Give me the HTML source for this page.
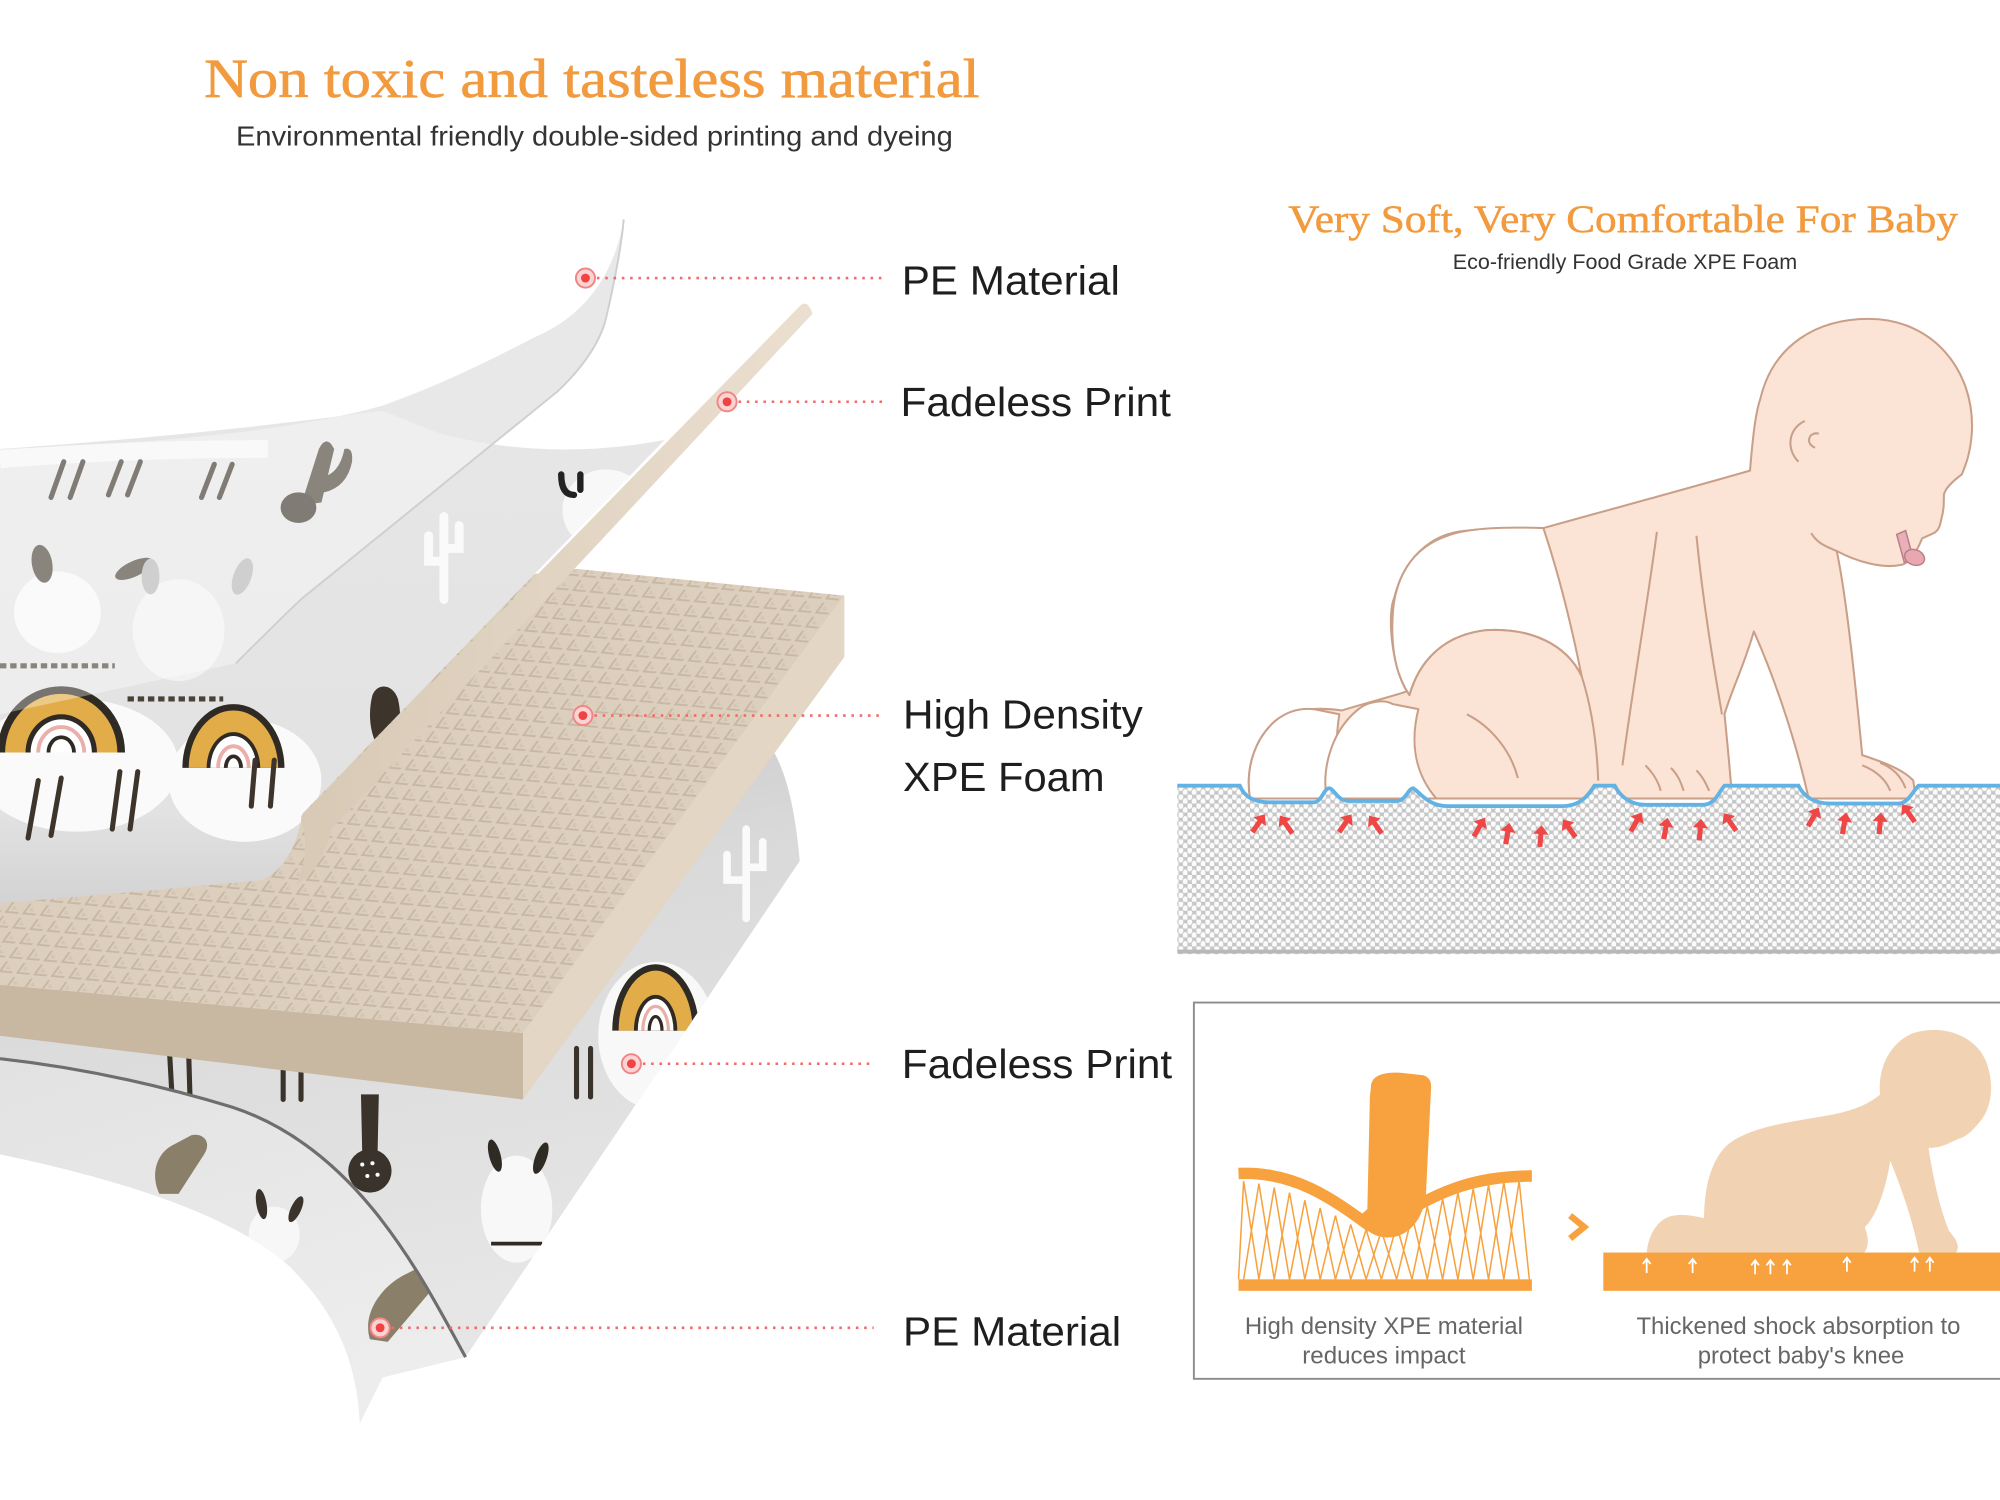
<!DOCTYPE html>
<html><head><meta charset="utf-8"><title>Mat layers</title>
<style>
html,body{margin:0;padding:0;background:#fff;width:2000px;height:1500px;overflow:hidden}
svg{display:block}
.sans{font-family:"Liberation Sans",Arial,sans-serif}
.serif{font-family:"Liberation Serif","Times New Roman",serif}
</style></head><body>
<svg width="2000" height="1500" viewBox="0 0 1568 1176" xmlns="http://www.w3.org/2000/svg">
<defs>
<pattern id="ft" width="20" height="20" patternUnits="userSpaceOnUse" patternTransform="matrix(0.68,0.063,0.40,-0.55,0,0)">
<rect width="20" height="20" fill="#dccfbe"/>
<path d="M3,17 V3 H17" fill="none" stroke="#c8b8a3" stroke-width="2.6"/>
<path d="M8,12 V8 H12" fill="none" stroke="#d2c4b1" stroke-width="2"/>
</pattern>
<pattern id="dots" width="7" height="7" patternUnits="userSpaceOnUse">
<rect width="7" height="7" fill="#c6c6c6"/>
<ellipse cx="1.75" cy="1.75" rx="2.0" ry="2.5" fill="#fbfbfb"/>
<ellipse cx="5.25" cy="5.25" rx="2.0" ry="2.5" fill="#fbfbfb"/>
</pattern>
<linearGradient id="gF" x1="0" y1="0" x2="0.25" y2="1">
<stop offset="0" stop-color="#c4c4c4"/><stop offset="0.35" stop-color="#d9d9d9"/><stop offset="1" stop-color="#e6e6e6"/>
</linearGradient>
<linearGradient id="gG" x1="0" y1="0" x2="0.4" y2="1">
<stop offset="0" stop-color="#e2e2e2"/><stop offset="1" stop-color="#ededed"/>
</linearGradient>
<linearGradient id="gB" x1="0" y1="352" x2="0" y2="708" gradientUnits="userSpaceOnUse">
<stop offset="0" stop-color="#e6e6e6"/><stop offset="0.8" stop-color="#e2e2e2"/><stop offset="1" stop-color="#d3d3d3"/>
</linearGradient>
<linearGradient id="gC" x1="0" y1="0" x2="1" y2="0">
<stop offset="0" stop-color="#d8c9b5"/><stop offset="1" stop-color="#ebdfd0"/>
</linearGradient>
<clipPath id="clipB"><path d="M0,352 Q150,342 300,322 L345,340 Q430,362 521,345 L237,638 Q230,680 205,690 Q100,700 0,708 Z"/></clipPath>
<clipPath id="clipF"><path d="M0,790 L607,590 C618,610 624,640 627,675 L365,1064 C330,1000 280,905 182,868 Q90,840 0,830 Z"/></clipPath>
<clipPath id="clipG"><path d="M0,830 Q90,840 182,868 C280,900 330,1000 365,1064 L300,1080 L282,1116 C280,1070 265,1030 226,992 C190,960 120,930 0,905 Z"/></clipPath>
<path id="ar" d="M-2,9 L-2,-1 L-6,-1 L0,-8 L6,-1 L2,-1 L2,9 Z" fill="#ef4646"/>
</defs>

<rect width="1568" height="1176" fill="#fff"/>

<!-- Titles -->
<text x="160" y="76" class="serif" font-size="43" fill="#f29a3e" stroke="#f29a3e" stroke-width="0.5" textLength="608" lengthAdjust="spacingAndGlyphs">Non toxic and tasteless material</text>
<text x="185" y="114" class="sans" font-size="22" fill="#333" textLength="562" lengthAdjust="spacingAndGlyphs">Environmental friendly double-sided printing and dyeing</text>
<text x="1010" y="182" class="serif" font-size="31" fill="#f29a3e" stroke="#f29a3e" stroke-width="0.4" textLength="525" lengthAdjust="spacingAndGlyphs">Very Soft, Very Comfortable For Baby</text>
<text x="1139" y="211" class="sans" font-size="17" fill="#333" textLength="270" lengthAdjust="spacingAndGlyphs">Eco-friendly Food Grade XPE Foam</text>

<!-- ===== LEFT MAT ===== -->
<path d="M0,830 Q90,840 182,868 C280,900 330,1000 365,1064 L300,1080 L282,1116 C280,1070 265,1030 226,992 C190,960 120,930 0,905 Z" fill="url(#gG)"/>
<g clip-path="url(#clipG)">
<path d="M125,936 C118,922 122,905 135,898 L150,890 C160,888 166,896 160,905 L140,936 Z" fill="#8a7f69"/>
<ellipse cx="215" cy="968" rx="20" ry="22" fill="#f7f7f7"/>
<ellipse cx="205" cy="944" rx="4" ry="12" fill="#3a332b" transform="rotate(-10 205 944)"/>
<ellipse cx="232" cy="948" rx="4" ry="11" fill="#3a332b" transform="rotate(25 232 948)"/>
<path d="M290,1050 C284,1030 298,1010 316,1000 L336,990 C346,988 351,998 343,1006 L304,1052 Z" fill="#8a7f69"/>
</g>
<path d="M0,790 L607,590 C618,610 624,640 627,675 L365,1064 C330,1000 280,905 182,868 Q90,840 0,830 Z" fill="url(#gF)"/>
<g clip-path="url(#clipF)">
<ellipse cx="515" cy="812" rx="46" ry="58" fill="#f8f8f8"/>
<path d="M480,808 A34,52 0 0 1 548,808 Z" fill="#2f2a24"/>
<path d="M485,808 A29,47 0 0 1 543,808 Z" fill="#e2ad48"/>
<path d="M497,808 A17,28 0 0 1 531,808 Z" fill="#2f2a24"/>
<path d="M500,808 A14,25 0 0 1 528,808 Z" fill="#fff"/>
<path d="M504,808 A10,19 0 0 1 524,808" fill="none" stroke="#e8b0a8" stroke-width="2.5"/>
<path d="M509,808 A5,11 0 0 1 519,808" fill="none" stroke="#2f2a24" stroke-width="2.5"/>
<g stroke="#3a332b" stroke-width="4" stroke-linecap="round">
<path d="M452,822 V860 M463,822 V860 M133,826 L135,862 M148,828 L149,862 M222,836 V862 M236,836 V862"/>
</g>
<path d="M283,858 L297,858 L296,905 L284,905 Z" fill="#3a332b"/>
<ellipse cx="290" cy="918" rx="17" ry="17" fill="#3a332b"/>
<g fill="#fff"><circle cx="284" cy="913" r="1.6"/><circle cx="292" cy="912" r="1.6"/><circle cx="288" cy="922" r="1.6"/><circle cx="296" cy="921" r="1.6"/></g>
<ellipse cx="405" cy="948" rx="28" ry="42" fill="#f8f8f8"/>
<ellipse cx="388" cy="906" rx="4.5" ry="13" fill="#2f2a24" transform="rotate(-15 388 906)"/>
<ellipse cx="424" cy="908" rx="4.5" ry="13" fill="#2f2a24" transform="rotate(20 424 908)"/>
<path d="M385,975 H425" stroke="#2f2a24" stroke-width="3"/>
<path d="M585,720 V650 M585,690 H570 V670 M585,680 H598 V660" fill="none" stroke="#fafafa" stroke-width="6" stroke-linecap="round"/>
</g>
<path d="M0,830 Q90,840 182,868 C280,900 330,1000 365,1064" fill="none" stroke="#6e6e6e" stroke-width="2.5"/>

<!-- foam block -->
<path d="M0,500 L452,446 L662,467 L410,810 L0,772 Z" fill="url(#ft)"/>
<path d="M410,810 L662,467 L662,515 L410,862 Z" fill="#e3d6c4"/>
<path d="M0,772 L410,810 L410,862 L0,812 Z" fill="#c8b7a1"/>

<!-- PE lifted sheet (solid) -->
<path d="M489,172 C482,215 458,248 420,264 C385,282 350,300 300,318 C230,338 120,348 0,352 L0,560 L185,520 C210,495 225,480 237,469 L437,307 C455,290 470,270 475,250 C482,220 487,195 489,172 Z" fill="#dcdcdc"/>

<!-- top print sheet -->
<path d="M0,352 Q150,342 300,322 L345,340 Q430,362 521,345 L237,638 Q230,680 205,690 Q100,700 0,708 Z" fill="url(#gB)"/>
<g clip-path="url(#clipB)">
<ellipse cx="60" cy="600" rx="80" ry="52" fill="#fafafa"/>
<ellipse cx="192" cy="612" rx="60" ry="48" fill="#fafafa"/>
<ellipse cx="45" cy="480" rx="34" ry="32" fill="#f8f8f8"/>
<ellipse cx="140" cy="494" rx="36" ry="40" fill="#f1f1f1"/>
<ellipse cx="33" cy="442" rx="8" ry="15" fill="#4a4236" transform="rotate(-10 33 442)"/>
<ellipse cx="105" cy="446" rx="16" ry="6" fill="#4a4236" transform="rotate(-25 105 446)"/>
<ellipse cx="118" cy="452" rx="7" ry="14" fill="#b5b5b5"/>
<ellipse cx="190" cy="452" rx="7" ry="15" fill="#b5b5b5" transform="rotate(20 190 452)"/>
<path d="M0,522 H90 M100,548 H175" stroke="#4a4236" stroke-width="4" stroke-dasharray="5 3"/>
<path d="M0,360 Q100,352 210,352" stroke="#f6f6f6" stroke-width="14" fill="none"/>
<path d="M-2,590 A50,52 0 0 1 98,590 Z" fill="#2f2a24"/>
<path d="M4,590 A44,46 0 0 1 92,590 Z" fill="#e2ad48"/>
<path d="M20,590 A28,30 0 0 1 76,590 Z" fill="#2f2a24"/>
<path d="M24,590 A24,26 0 0 1 72,590 Z" fill="#fff"/>
<path d="M30,590 A18,20 0 0 1 66,590" fill="none" stroke="#e8b0a8" stroke-width="3"/>
<path d="M38,590 A10,12 0 0 1 58,590" fill="none" stroke="#2f2a24" stroke-width="3"/>
<path d="M143,602 A40,50 0 0 1 223,602 Z" fill="#2f2a24"/>
<path d="M148,602 A35,45 0 0 1 218,602 Z" fill="#e2ad48"/>
<path d="M162,602 A21,28 0 0 1 204,602 Z" fill="#2f2a24"/>
<path d="M165,602 A18,25 0 0 1 201,602 Z" fill="#fff"/>
<path d="M171,602 A12,17 0 0 1 195,602" fill="none" stroke="#e8b0a8" stroke-width="3"/>
<path d="M177,602 A6,9 0 0 1 189,602" fill="none" stroke="#2f2a24" stroke-width="3"/>
<g stroke="#3d352c" stroke-width="4" stroke-linecap="round">
<path d="M40,390 L50,362 M55,390 L65,362 M85,388 L95,362 M100,388 L110,362 M158,390 L168,364 M172,390 L182,364"/>
<path d="M22,657 L30,612 M40,655 L48,610 M88,650 L94,605 M102,650 L108,605 M197,632 L200,596 M212,632 L215,596"/>
</g>
<path d="M236,396 L250,352 Q256,340 262,352 L252,394 Z" fill="#4a4236"/>
<path d="M252,374 Q266,372 270,352 Q277,350 276,362 Q272,382 254,386 Z" fill="#4a4236"/>
<ellipse cx="234" cy="398" rx="14" ry="12" fill="#3d352c"/>
<path d="M300,590 C290,580 288,560 292,545 C296,535 308,536 312,548 C315,560 314,575 308,590 Z" fill="#3d352c"/>
<path d="M348,470 V405 M348,440 H336 V420 M348,430 H360 V412" fill="none" stroke="#fafafa" stroke-width="7" stroke-linecap="round"/>
<ellipse cx="475" cy="400" rx="34" ry="32" fill="#f8f8f8"/>
<path d="M440,372 Q440,388 450,388 M455,372 V384" fill="none" stroke="#222" stroke-width="5" stroke-linecap="round"/>
<circle cx="500" cy="378" r="4" fill="#2f2a24"/>
</g>
<path d="M489,172 C482,215 458,248 420,264 C385,282 350,300 300,318 C230,338 120,348 0,352 L0,560 L185,520 C210,495 225,480 237,469 L437,307 C455,290 470,270 475,250 C482,220 487,195 489,172 Z" fill="#ffffff" opacity="0.35"/>
<path d="M489,172 C487,195 482,220 475,250 C470,270 455,290 437,307 L237,469 C225,480 210,495 185,520" fill="none" stroke="#cfcfcf" stroke-width="1.5"/>

<!-- beige edge band -->
<path d="M627,240 Q633,234 637,246 L260,650 Q252,682 232,694 Q244,668 236,640 Z" fill="url(#gC)"/>

<!-- callouts -->
<g stroke="#f26a6a" stroke-width="2" stroke-dasharray="2 4.5" fill="none">
<path d="M468,218 H695"/><path d="M579,315 H692"/><path d="M466,561 H692"/><path d="M504,834 H685"/><path d="M307,1041 H685"/>
</g>
<g>
<circle cx="459" cy="218" r="7.5" fill="#fbd3d3" stroke="#f08585" stroke-width="1.5"/><circle cx="459" cy="218" r="3.5" fill="#ee4444"/>
<circle cx="570" cy="315" r="7.5" fill="#fbd3d3" stroke="#f08585" stroke-width="1.5"/><circle cx="570" cy="315" r="3.5" fill="#ee4444"/>
<circle cx="457" cy="561" r="7.5" fill="#fbd3d3" stroke="#f08585" stroke-width="1.5"/><circle cx="457" cy="561" r="3.5" fill="#ee4444"/>
<circle cx="495" cy="834" r="7.5" fill="#fbd3d3" stroke="#f08585" stroke-width="1.5"/><circle cx="495" cy="834" r="3.5" fill="#ee4444"/>
<circle cx="298" cy="1041" r="7.5" fill="#fbd3d3" stroke="#f08585" stroke-width="1.5"/><circle cx="298" cy="1041" r="3.5" fill="#ee4444"/>
</g>
<g class="sans" font-size="32" fill="#1e1e1e">
<text x="707" y="231" textLength="171" lengthAdjust="spacingAndGlyphs">PE Material</text>
<text x="706" y="326" textLength="212" lengthAdjust="spacingAndGlyphs">Fadeless Print</text>
<text x="708" y="571" textLength="188" lengthAdjust="spacingAndGlyphs">High Density</text>
<text x="708" y="620" textLength="158" lengthAdjust="spacingAndGlyphs">XPE Foam</text>
<text x="707" y="845" textLength="212" lengthAdjust="spacingAndGlyphs">Fadeless Print</text>
<text x="708" y="1055" textLength="171" lengthAdjust="spacingAndGlyphs">PE Material</text>
</g>

<!-- ===== RIGHT: baby on foam ===== -->
<g stroke="#c99f88" stroke-width="1.6" stroke-linejoin="round">
<path d="M980,626 C976,600 985,578 1000,565 C1012,556 1030,554 1052,557 C1075,550 1095,545 1103,542 C1090,520 1088,480 1093,469 C1100,440 1120,418 1150,416 C1170,414 1195,414 1210,414 C1260,400 1320,384 1372,369 C1374,345 1376,325 1380,313 C1390,270 1425,250 1465,250 C1515,250 1548,290 1546,338 C1545,355 1541,365 1538,372 C1530,378 1525,383 1524,388 C1524,395 1524,400 1522,407 C1521,412 1520,416 1516,418 L1507,422 C1503,432 1497,442 1490,443 C1475,446 1455,440 1440,432 C1448,470 1455,540 1460,592 C1475,597 1492,603 1500,612 L1502,626 L1418,626 C1410,590 1395,540 1375,495 C1368,520 1358,540 1352,560 C1354,580 1356,600 1358,626 Z" fill="#fbe4d6"/>
<path d="M1210,414 C1180,413 1150,414 1135,420 C1105,430 1094,455 1092,480 C1090,510 1095,530 1105,545 C1112,520 1130,498 1165,494 C1200,492 1228,505 1240,530 C1232,490 1222,450 1210,414 Z" fill="#fff"/>
<path d="M980,626 C976,600 985,578 1000,565 C1010,557 1020,555 1030,556 L1050,560 C1047,580 1046,605 1056,626 Z" fill="#fff"/>
<path d="M1040,626 C1036,600 1045,572 1065,556 C1072,550 1085,548 1092,552 L1112,556 C1106,580 1108,605 1126,626 Z" fill="#fff"/>
<g fill="none">
<path d="M1105,545 C1112,520 1130,498 1165,494 C1200,492 1228,505 1240,530 C1248,555 1252,585 1253,612"/>
<path d="M1150,560 C1170,570 1185,590 1190,610"/>
<path d="M1299,417 C1292,470 1280,540 1272,600"/>
<path d="M1330,420 C1336,480 1345,530 1350,560"/>
<path d="M1415,330 C1402,336 1400,352 1410,362"/>
<path d="M1426,340 C1418,338 1415,348 1423,351"/>
<path d="M1440,432 C1430,428 1424,425 1420,418"/>
<path d="M1290,600 C1296,606 1300,612 1302,620 M1310,602 C1316,608 1318,614 1320,620 M1330,604 C1336,610 1338,616 1340,620"/>
<path d="M1460,600 C1470,604 1478,610 1482,620 M1474,598 C1484,602 1490,608 1494,618"/>
</g>
</g>
<path d="M1487,419 L1494,416 L1500,438 L1493,441 Z" fill="#eab0b8" stroke="#b98089" stroke-width="1.2"/>
<ellipse cx="1501" cy="437" rx="8" ry="6" fill="#e9a7b1" stroke="#b98089" stroke-width="1.2" transform="rotate(20 1501 437)"/>

<path d="M923,616 H972 C976,626 985,629 995,629 L1030,629 C1036,629 1038,618 1042,618 C1046,618 1048,628 1058,628 L1095,628 C1102,628 1104,618 1108,618 C1114,622 1120,632 1135,632 L1225,632 C1240,632 1246,622 1250,616 H1266 C1270,624 1278,631 1290,631 L1335,631 C1345,631 1348,620 1352,616 H1410 C1414,624 1422,630 1435,630 L1488,630 C1496,630 1500,620 1504,616 H1568 V748 H923 Z" fill="url(#dots)"/>
<path d="M923,746 H1568" stroke="#b8b8b8" stroke-width="3"/>
<path d="M923,616 H972 C976,626 985,629 995,629 L1030,629 C1036,629 1038,618 1042,618 C1046,618 1048,628 1058,628 L1095,628 C1102,628 1104,618 1108,618 C1114,622 1120,632 1135,632 L1225,632 C1240,632 1246,622 1250,616 H1266 C1270,624 1278,631 1290,631 L1335,631 C1345,631 1348,620 1352,616 H1410 C1414,624 1422,630 1435,630 L1488,630 C1496,630 1500,620 1504,616 H1568" fill="none" stroke="#62b3e3" stroke-width="3"/>
<g>
<use href="#ar" transform="translate(987,645) rotate(35)"/>
<use href="#ar" transform="translate(1008,646) rotate(-35)"/>
<use href="#ar" transform="translate(1055,645) rotate(35)"/>
<use href="#ar" transform="translate(1078,646) rotate(-35)"/>
<use href="#ar" transform="translate(1160,648) rotate(30)"/>
<use href="#ar" transform="translate(1182,653) rotate(10)"/>
<use href="#ar" transform="translate(1208,655) rotate(5)"/>
<use href="#ar" transform="translate(1230,649) rotate(-35)"/>
<use href="#ar" transform="translate(1283,644) rotate(30)"/>
<use href="#ar" transform="translate(1306,649) rotate(10)"/>
<use href="#ar" transform="translate(1333,650) rotate(5)"/>
<use href="#ar" transform="translate(1356,644) rotate(-35)"/>
<use href="#ar" transform="translate(1422,640) rotate(30)"/>
<use href="#ar" transform="translate(1446,645) rotate(10)"/>
<use href="#ar" transform="translate(1474,645) rotate(5)"/>
<use href="#ar" transform="translate(1496,637) rotate(-35)"/>
</g>

<!-- ===== BOTTOM RIGHT BOX ===== -->
<rect x="936" y="786" width="700" height="295" fill="none" stroke="#8c8c8c" stroke-width="1.5"/>
<g stroke="#f7a23e" stroke-width="1.2" fill="none">
<path d="M975,926L971,1003M975,926L987,1003 M987,928L975,1003M987,928L999,1003 M999,931L987,1003M999,931L1011,1003 M1011,935L999,1003M1011,935L1023,1003 M1023,941L1011,1003M1023,941L1035,1003 M1035,947L1023,1003M1035,947L1047,1003 M1047,953L1035,1003M1047,953L1059,1003 M1059,960L1047,1003M1059,960L1071,1003 M1071,964L1059,1003M1071,964L1083,1003 M1083,965L1071,1003M1083,965L1095,1003 M1095,961L1083,1003M1095,961L1107,1003 M1107,953L1095,1003M1107,953L1119,1003 M1119,946L1107,1003M1119,946L1131,1003 M1131,940L1119,1003M1131,940L1143,1003 M1143,935L1131,1003M1143,935L1155,1003 M1155,932L1143,1003M1155,932L1167,1003 M1167,929L1155,1003M1167,929L1179,1003 M1179,927L1167,1003M1179,927L1191,1003 M1191,926L1179,1003M1191,926L1199,1003"/>
</g>
<path d="M971,920 C1015,918 1045,940 1075,962" fill="none" stroke="#f7a23e" stroke-width="9"/>
<path d="M1095,955 C1130,932 1160,922 1201,922" fill="none" stroke="#f7a23e" stroke-width="9"/>
<path d="M1075,850 Q1077,840 1098,841 L1116,843 Q1122,845 1122,852 L1118,935 C1116,960 1100,972 1085,970 C1075,969 1068,962 1064,955 L1072,948 L1074,860 Z" fill="#f7a23e"/>
<rect x="971" y="1003" width="230" height="9" fill="#f7a23e"/>
<path d="M1231,953 L1242,962 L1231,971" fill="none" stroke="#f7a23e" stroke-width="5"/>
<path d="M1291,982 C1292,970 1298,958 1308,954 C1318,951 1326,953 1336,955 C1336,935 1340,910 1355,897 C1372,884 1400,880 1430,875 C1450,872 1465,866 1474,858 C1472,840 1480,818 1500,810 C1520,803 1548,810 1557,832 C1564,850 1562,870 1550,882 C1545,888 1540,892 1535,893 C1525,898 1520,900 1512,900 C1515,920 1520,945 1528,965 C1534,972 1538,978 1532,984 L1505,984 C1500,960 1494,940 1482,910 C1478,935 1470,955 1462,962 C1465,970 1466,978 1460,984 Z" fill="#f1d3b4"/>
<rect x="1257" y="982" width="311" height="30" fill="#f7a23e"/>
<g stroke="#fff" stroke-width="1.4" fill="none">
<path d="M1291,998V988M1288,991L1291,987L1294,991 M1327,998V988M1324,991L1327,987L1330,991 M1376,999V989M1373,992L1376,988L1379,992 M1388,999V989M1385,992L1388,988L1391,992 M1401,999V989M1398,992L1401,988L1404,992 M1448,997V987M1445,990L1448,986L1451,990 M1501,997V987M1498,990L1501,986L1504,990 M1513,997V987M1510,990L1513,986L1516,990"/>
</g>
<g class="sans" font-size="19" fill="#666" text-anchor="middle">
<text x="1085" y="1046" textLength="218" lengthAdjust="spacingAndGlyphs">High density XPE material</text>
<text x="1085" y="1069" textLength="128" lengthAdjust="spacingAndGlyphs">reduces impact</text>
<text x="1410" y="1046" textLength="254" lengthAdjust="spacingAndGlyphs">Thickened shock absorption to</text>
<text x="1412" y="1069" textLength="162" lengthAdjust="spacingAndGlyphs">protect baby's knee</text>
</g>
</svg>
</body></html>
